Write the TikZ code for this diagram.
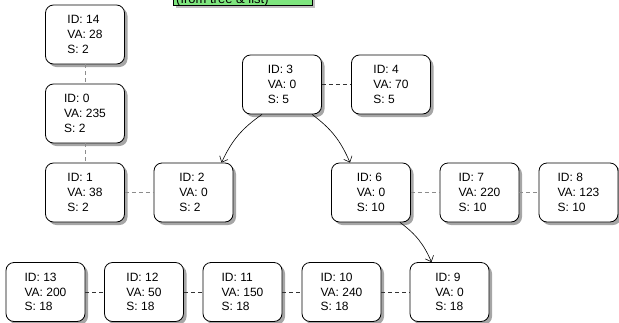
\documentclass[tikz,border=0pt]{standalone}
\usepackage{fontspec}
\setmainfont{Liberation Sans}
\usetikzlibrary{arrows.meta,shadows,positioning}
\tikzset{
  blk/.style={draw=black, line width=0.8pt, fill=white, rounded corners=8pt,
    minimum width=79pt, minimum height=59pt, inner sep=0pt, align=left,
    font=\fontsize{12}{14.7}\selectfont,
    drop shadow={shadow xshift=3pt, shadow yshift=-3pt, fill=black!35, opacity=1}},
  lnk/.style={dashed, dash pattern=on 4pt off 3pt, draw=black!45, line width=0.7pt},
  lnkdark/.style={dashed, dash pattern=on 4pt off 3pt, draw=black!80, line width=0.7pt},
  child/.style={draw=black, line width=0.6pt, -{Straight Barb[length=5pt,width=9pt]}},
  note/.style={draw=black, line width=0.8pt, fill=green!45!white!90!black, inner sep=0pt,
    drop shadow={shadow xshift=3pt, shadow yshift=-3pt, fill=black!25, opacity=1}},
}
\begin{document}
\begin{tikzpicture}[x=1pt,y=1pt]
\useasboundingbox (0,0) rectangle (619,-322);
\clip (0,0) rectangle (619,-322);

% comment box (top edge runs off the page)
\node[note, minimum width=139pt, minimum height=40pt, anchor=south west] (memo) at (173,-5.5) {};
\node[anchor=base west, inner sep=0pt, font=\fontsize{13}{14}\selectfont] (memotxt) at (176,-3.2) {(from tree \& list)};

% list chain on the left
\node[blk] (n14) at (85,-34.5) {ID: 14\\VA: 28\\S: 2};
\node[blk] (n0)  at (85,-113.5) {ID: 0\\VA: 235\\S: 2};
\node[blk] (n1)  at (85,-192.5) {ID: 1\\VA: 38\\S: 2};
\node[blk] (n2)  at (193.5,-192.5) {ID: 2\\VA: 0\\S: 2};

% tree root and sibling
\node[blk] (n3)  at (282,-84.5) {ID: 3\\VA: 0\\S: 5};
\node[blk] (n4)  at (391,-84.5) {ID: 4\\VA: 70\\S: 5};

% middle row
\node[blk] (n6)  at (371,-192.5) {ID: 6\\VA: 0\\S: 10};
\node[blk] (n7)  at (479.5,-192.5) {ID: 7\\VA: 220\\S: 10};
\node[blk] (n8)  at (578.5,-192.5) {ID: 8\\VA: 123\\S: 10};

% bottom row
\node[blk] (n13) at (45.5,-292) {ID: 13\\VA: 200\\S: 18};
\node[blk] (n12) at (144,-292) {ID: 12\\VA: 50\\S: 18};
\node[blk] (n11) at (242.5,-292) {ID: 11\\VA: 150\\S: 18};
\node[blk] (n10) at (341.5,-292) {ID: 10\\VA: 240\\S: 18};
\node[blk] (n9)  at (449.5,-292) {ID: 9\\VA: 0\\S: 18};

% list links
\draw[lnk] (n14) -- (n0);
\draw[lnk] (n0) -- (n1);
\draw[lnk] (n1) -- (n2);
\draw[lnkdark] (n3) -- (n4);
\draw[lnk] (n6) -- (n7);
\draw[lnk] (n7) -- (n8);
\draw[lnkdark] (n13) -- (n12);
\draw[lnkdark] (n12) -- (n11);
\draw[lnkdark] (n11) -- (n10);
\draw[lnkdark] (n10) -- (n9);

% tree edges
\draw[child] ([xshift=-20pt]n3.south) to[bend right=15] ([xshift=28pt]n2.north);
\draw[child] ([xshift=30pt]n3.south) to[bend left=15] ([xshift=-21pt]n6.north);
\draw[child] ([xshift=29pt]n6.south) to[bend left=15] ([xshift=-18pt]n9.north);
\end{tikzpicture}
\end{document}
